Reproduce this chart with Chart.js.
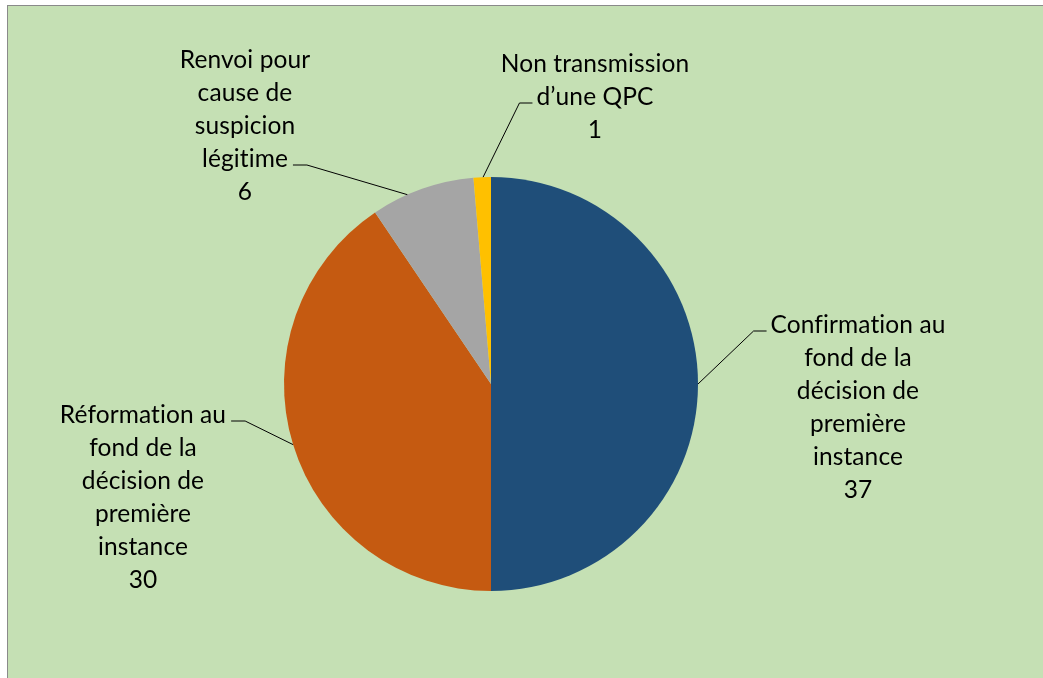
<!DOCTYPE html>
<html>
<head>
<meta charset="utf-8">
<script src="https://cdn.jsdelivr.net/npm/chart.js@4"></script>
<style>
  html, body { margin: 0; padding: 0; overflow: hidden; background: #fff; }
  #frame {
    position: absolute; left: 7px; top: 5px; width: 1100px; height: 700px;
    background: #c5e0b4; border: 1px solid #8a8a8a;
  }
  #wrap { position: absolute; left: 0; top: 0; width: 1043px; height: 678px; }
</style>
</head>
<body>
<div id="frame"></div>
<div id="wrap"><canvas id="pieChart"></canvas></div>
<script>
// Data
const categories = [
  ['Confirmation au', 'fond de la', 'décision de', 'première', 'instance'],
  ['Réformation au', 'fond de la', 'décision de', 'première', 'instance'],
  ['Renvoi pour', 'cause de', 'suspicion', 'légitime'],
  ['Non transmission', 'd\u2019une QPC']
];
const values = [37, 30, 6, 1];
const colors = ['#1f4e79', '#c55a11', '#a5a5a5', '#ffc000'];

// where each label sits (centre x, centre y of first line) and which line gets the leader stub
const labelLayout = [
  { x: 858, y: 325, stubLine: 0, side: 'left', at: 0.5 },
  { x: 143, y: 415, stubLine: 0, side: 'right', at: 0.5 },
  { x: 245, y: 60, stubLine: 3, side: 'right', at: 0.35 },
  { x: 595, y: 64, stubLine: 1, side: 'left', at: 0.55 }
];
const lineHeight = 33;
const labelFont = '24.5px Lato';

const pieLabels = {
  id: 'pieLabels',
  afterDatasetsDraw(chart) {
    const ctx = chart.ctx;
    const arcs = chart.getDatasetMeta(0).data;
    ctx.save();
    ctx.font = labelFont;
    ctx.letterSpacing = '0.1px'; // keeps Lato from joining "ti"
    ctx.fillStyle = '#000';
    ctx.textAlign = 'center';
    ctx.textBaseline = 'middle';
    arcs.forEach((arc, i) => {
      const lay = labelLayout[i];
      const lines = categories[i].concat([String(values[i])]);
      lines.forEach((t, k) => ctx.fillText(t, lay.x, lay.y + k * lineHeight));

      // leader line
      const w = ctx.measureText(lines[lay.stubLine]).width;
      const sy = lay.y + lay.stubLine * lineHeight + 6;
      let x1, x2;
      if (lay.side === 'left') {
        x1 = lay.x - w / 2 - 4;
        x2 = x1 - 13;
      } else {
        x1 = lay.x + w / 2 + 5;
        x2 = x1 + 14;
      }
      const p = arc.getProps(['x', 'y', 'startAngle', 'endAngle', 'outerRadius'], true);
      const a = p.startAngle + (p.endAngle - p.startAngle) * lay.at;
      const ex = p.x + Math.cos(a) * p.outerRadius;
      const ey = p.y + Math.sin(a) * p.outerRadius;
      ctx.strokeStyle = '#000';
      ctx.lineWidth = 1;
      ctx.beginPath();
      ctx.moveTo(x1, sy);
      ctx.lineTo(x2, sy);
      ctx.lineTo(ex, ey);
      ctx.stroke();
    });
    ctx.restore();
  }
};

new Chart(document.getElementById('pieChart'), {
  type: 'pie',
  data: {
    labels: categories.map(c => c.join(' ')),
    datasets: [{
      data: values,
      backgroundColor: colors,
      borderWidth: 0
    }]
  },
  options: {
    responsive: true,
    maintainAspectRatio: false,
    animation: false,
    layout: { padding: { top: 177, bottom: 87, left: 284, right: 345 } },
    plugins: {
      legend: { display: false },
      tooltip: { enabled: false }
    }
  },
  plugins: [pieLabels]
});
</script>
</body>
</html>
